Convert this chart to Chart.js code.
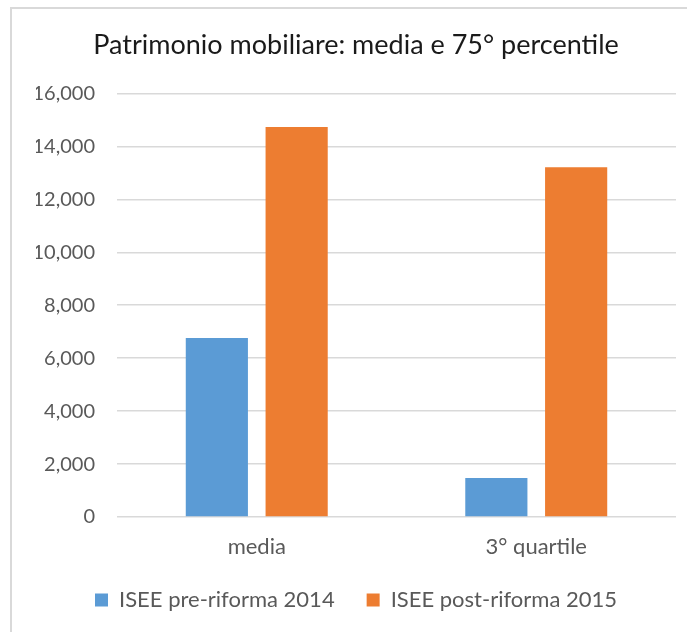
<!DOCTYPE html>
<html>
<head>
<meta charset="utf-8">
<script src="https://cdn.jsdelivr.net/npm/chart.js@4/dist/chart.umd.min.js"></script>
<style>
  html, body { margin: 0; padding: 0; background: #fff; }
  #frame {
    position: absolute; left: 10px; top: 7px;
    width: 800px; height: 800px;
    border: 2px solid #d9d9d9;
  }
  #wrap { position: absolute; left: 0; top: 0; width: 687px; height: 632px; }
</style>
</head>
<body>
<div id="frame"></div>
<div id="wrap"><canvas id="chart"></canvas></div>
<script>
const titolo = 'Patrimonio mobiliare: media e 75° percentile';
const categorie = ['media', '3° quartile'];
const serie = ['ISEE pre-riforma 2014', 'ISEE post-riforma 2015'];
const pre2014 = [6760, 1470];
const post2015 = [14730, 13210];
const colori = ['#5B9BD5', '#ED7D31'];

const font = "Lato, 'Open Sans', sans-serif";

new Chart(document.getElementById('chart').getContext('2d'), {
    type: 'bar',
    data: {
        labels: categorie,
        datasets: [
            { label: serie[0], data: pre2014, backgroundColor: colori[0] },
            { label: serie[1], data: post2015, backgroundColor: colori[1] }
        ]
    },
    options: {
        responsive: true,
        maintainAspectRatio: false,
        animation: false,
        datasets: {
            bar: { categoryPercentage: 0.571, barPercentage: 0.779 }
        },
        layout: { padding: { left: 36, right: 11, top: 29, bottom: 11 } },
        scales: {
            x: {
                grid: { display: false, drawTicks: false },
                border: { display: false },
                ticks: { color: '#595959', font: { family: font, size: 22 }, padding: 17 },
                afterFit: s => { s.height = 40; }
            },
            y: {
                min: 0,
                max: 16000,
                ticks: {
                    stepSize: 2000,
                    color: '#595959',
                    font: { family: font, size: 20 },
                    padding: 22,
                    callback: v => v.toLocaleString('en-US')
                },
                grid: { color: '#d9d9d9', lineWidth: 1.5, drawTicks: false },
                border: { display: false },
                afterFit: s => { s.width = 81; }
            }
        },
        plugins: {
            title: {
                display: true,
                text: titolo,
                color: '#1a1a1a',
                font: { family: font, size: 27, weight: 'normal' },
                padding: { top: 0, bottom: 32 }
            },
            legend: {
                position: 'bottom',
                labels: {
                    color: '#595959',
                    font: { family: font, size: 22 },
                    boxWidth: 13,
                    boxHeight: 13,
                    padding: 32
                }
            },
            tooltip: { enabled: false }
        }
    }
});
</script>
</body>
</html>
